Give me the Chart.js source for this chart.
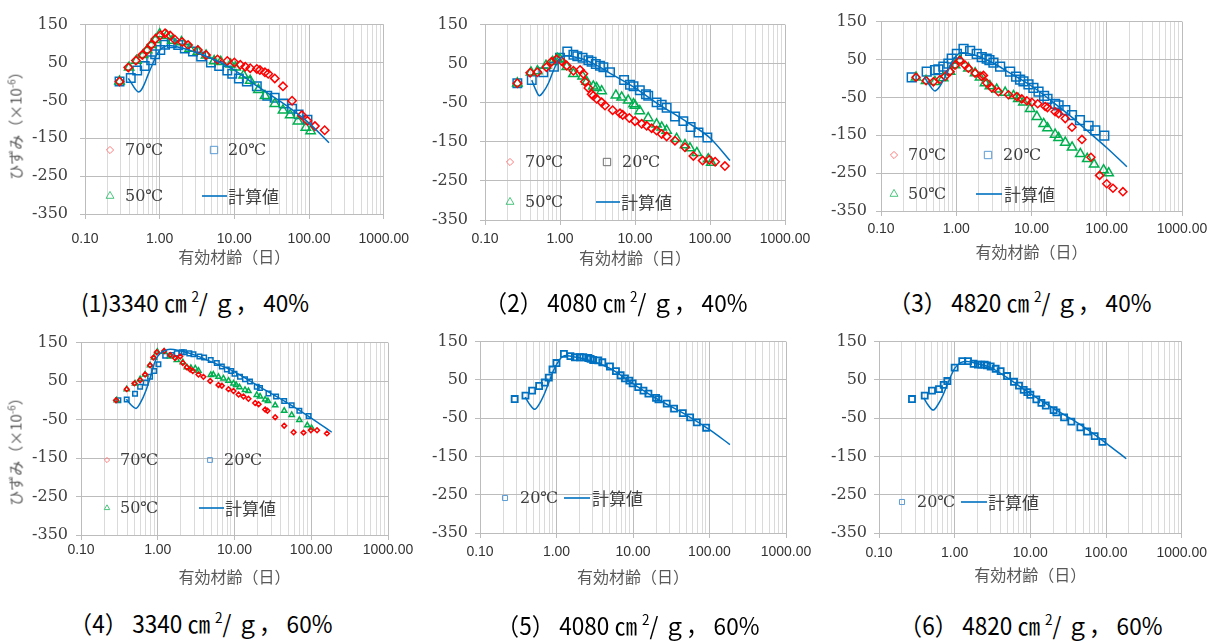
<!DOCTYPE html>
<html><head><meta charset="utf-8">
<script src="https://cdn.jsdelivr.net/npm/chart.js@4.4.0/dist/chart.umd.min.js"></script>
<style>
html,body{margin:0;padding:0;background:#fff;width:1216px;height:641px;overflow:hidden;}
body{position:relative;font-family:"Noto Sans CJK JP",sans-serif;}
canvas{position:absolute;}
.cap{position:absolute;font-size:24px;color:#000;white-space:nowrap;transform:translate(-50%,-50%) scaleX(0.94);line-height:1;}
.cap sup{font-size:60%;vertical-align:0.7em;line-height:0;}
.ytitle{position:absolute;font-size:15px;color:#595959;white-space:nowrap;transform:translate(-50%,-50%) rotate(-90deg);line-height:1;}
.ytitle sup{font-size:65%;vertical-align:0.6em;line-height:0;}
</style></head><body>
<script>
// ---------- shared axis content ----------
const xDecades = [0.1, 1, 10, 100, 1000];
const xTickLabels = ['0.10', '1.00', '10.00', '100.00', '1000.00'];
const yTickValues = [-350, -250, -150, -50, 50, 150];
const seriesNames = ['70℃', '50℃', '20℃', '計算値'];
const xTitleText = '有効材齢（日）';
const yTitleHtml = 'ひずみ（×10<sup>-6</sup>）';
const captionsHtml = [
  '(1)3340 ㎝ <sup>2</sup>/ ｇ， 40%',
  '（2） 4080 ㎝ <sup>2</sup>/ ｇ， 40%',
  '（3） 4820 ㎝ <sup>2</sup>/ ｇ， 40%',
  '（4） 3340 ㎝ <sup>2</sup>/ ｇ， 60%',
  '（5） 4080 ㎝ <sup>2</sup>/ ｇ， 60%',
  '（6） 4820 ㎝ <sup>2</sup>/ ｇ， 60%'
];

// ---------- data: [effective age (days), strain (x10^-6)] ----------
const p1_70 = [[0.29,0],[0.38,37],[0.48,55],[0.585,70],[0.68,83],[0.774,97],[0.875,112],[1.02,122],[1.18,127],[1.38,121],[1.6,110],[2.0,104],[2.4,96],[3.25,83],[4.18,70],[5.95,58],[8.05,54],[10,50],[12,44],[14,39],[16.3,35],[20,33],[22,30],[25.7,24],[28.4,20],[34.8,8],[44.8,-13],[59.3,-51],[80.3,-89],[95,-104],[120,-118],[162,-129]];
const p1_50 = [[0.29,0],[0.39,37],[0.49,55],[0.6,70],[0.68,83],[0.774,97],[0.88,110],[1.0,125],[1.24,121],[1.48,108],[1.96,104],[2.52,87],[3.25,79],[4.18,69],[5.37,54],[6.58,52],[8.9,45],[10.4,37],[13.3,16],[16.3,2],[21,-22],[25.7,-38],[34.8,-59],[44.8,-76],[55.9,-89],[71.1,-105],[90.6,-122],[105,-131]];
const p1_20 = [[0.29,0],[0.41,9],[0.5,29],[0.63,41],[0.77,56],[0.87,72],[1.02,83],[1.18,97],[1.45,101],[1.77,96],[2.17,87],[2.79,79],[3.59,66],[4.86,50],[6.26,41],[8.05,29],[9.36,20],[11.5,8],[14.7,0],[20,-13],[27.6,-38],[34.7,-43],[45.6,-58],[59.3,-72],[72.6,-87],[95.3,-101]];
const p1_calc = [[0.38,8],[0.42,-5],[0.47,-20],[0.52,-28],[0.57,-22],[0.63,-5],[0.7,18],[0.8,45],[0.9,68],[1.0,82],[1.15,92],[1.35,95],[1.6,93],[2,88],[3,77],[5,60],[10,30],[20,-12],[50,-64],[100,-110],[185,-162]];

const p2_70 = [[0.27,0],[0.40,27],[0.50,28],[0.66,41],[0.77,55],[0.90,61],[1.05,57],[1.23,45],[1.51,32],[1.85,34],[2.05,24],[2.15,4],[2.39,-12],[2.64,-28],[2.78,-32],[3.08,-40],[3.59,-49],[3.98,-57],[5.03,-69],[6.31,-77],[6.85,-81],[8.4,-89],[10,-97],[12.3,-104],[14.3,-109],[16.7,-115],[19.4,-121],[22.7,-130],[26.4,-136],[34.1,-147],[46.4,-164],[60,-186],[79.8,-198],[98,-196],[117,-201],[158,-212]];
const p2_50 = [[0.27,0],[0.41,28],[0.50,31],[0.65,45],[0.80,55],[0.92,63],[1.0,61],[1.23,42],[1.51,24],[2.0,18],[2.27,4],[2.78,-8],[3.08,-12],[3.59,-20],[5.56,-31],[6.64,-36],[8.12,-44],[9.55,-53],[10,-57],[11.6,-71],[15,-89],[19.4,-105],[22.7,-113],[26.4,-121],[35.9,-142],[46.4,-158],[54,-166],[66.8,-178],[94.7,-194],[104,-203]];
const p2_20 = [[0.27,0],[0.42,8],[0.6,28],[0.83,42],[1.0,65],[1.25,81],[1.51,73],[1.70,69],[2.0,65],[2.39,59],[2.64,55],[3.0,49],[3.41,45],[3.79,41],[4.64,28],[7.15,8],[8.58,-4],[9.55,-8],[11.6,-18],[14,-28],[15,-32],[19.4,-49],[22.7,-55],[26.4,-63],[34.1,-85],[44.1,-97],[55.2,-112],[70.2,-126],[92.2,-139]];
const p2_calc = [[0.42,8],[0.47,-15],[0.53,-32],[0.6,-22],[0.7,0],[0.8,28],[0.9,50],[1.0,63],[1.2,70],[1.5,68],[2,62],[3,47],[5,22],[10,-12],[20,-52],[50,-100],[100,-140],[185,-198]];

const p3_70 = [[0.292,3],[0.397,-6],[0.497,-9],[0.609,-3],[0.71,5],[0.828,18],[0.964,35],[1.12,48],[1.31,35],[1.45,27],[1.78,14],[2.18,5],[2.3,8],[2.54,-12],[2.97,-25],[3.64,-35],[4.94,-43],[6.38,-48],[7.43,-54],[8.67,-59],[10.1,-63],[12.1,-67],[15.2,-74],[16.3,-77],[20.6,-88],[22.9,-93],[28.1,-106],[34.5,-129],[46.8,-161],[61.6,-208],[80.3,-256],[100,-278],[121,-290],[164,-299]];
const p3_50 = [[0.292,3],[0.397,-6],[0.52,-9],[0.67,1],[0.828,18],[0.964,35],[1.12,48],[1.45,27],[1.78,14],[2.07,3],[2.41,-12],[2.8,-20],[3.45,-29],[4.47,-37],[5.76,-46],[6.67,-54],[7.8,-63],[9.6,-80],[11.8,-101],[14.5,-120],[16.3,-131],[20.6,-148],[22.9,-157],[28.1,-169],[34.6,-182],[44.5,-199],[55.1,-212],[67.9,-227],[90.7,-242],[106,-250]];
const p3_20 = [[0.256,3],[0.405,18],[0.523,22],[0.579,24],[0.675,31],[0.787,39],[0.871,52],[1.02,65],[1.25,78],[1.53,73],[1.87,65],[2.18,56],[2.54,52],[2.76,48],[3.12,42],[3.83,31],[5.2,18],[6.25,5],[7.06,-3],[7.83,-8],[9.12,-16],[10.6,-25],[12.4,-35],[14.7,-46],[16.3,-54],[20.6,-67],[22.9,-71],[28.1,-84],[34.5,-97],[44,-110],[57.3,-125],[70.3,-137],[92.7,-151]];
const p3_calc = [[0.38,3],[0.45,-20],[0.52,-33],[0.6,-22],[0.7,2],[0.8,28],[0.9,48],[1.0,60],[1.15,68],[1.5,65],[2,58],[3,42],[5,16],[10,-20],[20,-65],[35.6,-105],[50,-131],[100,-183],[185,-233]];

const p4_70 = [[0.286,0],[0.394,29],[0.497,44],[0.589,52],[0.684,67],[0.794,91],[0.878,111],[0.97,125],[1.21,128],[1.45,118],[1.68,110],[1.96,114],[2.12,97],[2.39,86],[2.64,80],[2.86,76],[3.39,67],[3.94,61],[4.82,50],[6.18,40],[6.84,38],[8.35,29],[9.7,24],[11.3,15],[13.1,10],[15.2,4],[18.6,-7],[20.6,-10],[25.1,-24],[26.9,-27],[33.9,-44],[44.4,-66],[58.9,-83],[79.4,-84],[99,-78],[119,-78],[160,-86]];
const p4_50 = [[0.292,0],[0.394,29],[0.506,44],[0.589,55],[0.684,67],[0.794,91],[0.897,111],[0.99,126],[1.21,126],[1.45,114],[1.77,105],[2.12,99],[2.39,86],[2.7,84],[3.08,83],[3.39,77],[4.9,66],[5.3,67],[6.18,61],[7.17,57],[8.35,51],[9.7,44],[10.5,40],[11.6,34],[13.7,27],[15.2,24],[19.5,14],[21.5,10],[25.1,2],[27.3,-2],[33.9,-13],[44.4,-27],[55.6,-38],[70,-51],[88.8,-65],[101,-72]];
const p4_20 = [[0.307,0],[0.394,2],[0.506,17],[0.589,35],[0.698,46],[0.794,61],[0.897,76],[1.02,94],[1.25,116],[1.52,118],[1.77,122],[2.05,125],[2.19,125],[2.58,122],[2.92,120],[3.49,114],[4.02,111],[4.9,105],[5.88,97],[6.84,88],[7.94,80],[9.05,76],[10,69],[11.8,61],[13.7,55],[15.9,49],[19.5,35],[21.5,32],[27.7,18],[34.8,10],[44.4,-2],[55.6,-13],[70,-27],[92.4,-41]];
const p4_calc = [[0.39,3],[0.45,-12],[0.52,-21],[0.6,-5],[0.7,25],[0.8,60],[0.9,95],[1.0,115],[1.2,128],[1.45,133],[2,128],[3,118],[5,100],[10,74],[20,38],[50,-8],[100,-46],[185,-83]];

const p5_20 = [[0.284,0],[0.393,9],[0.48,22],[0.593,34],[0.703,43],[0.794,56],[0.887,77],[1.0,94],[1.25,118],[1.52,112],[1.74,109],[2.02,109],[2.24,109],[2.6,107],[2.79,105],[3.02,102],[3.51,101],[3.97,96],[5.0,85],[5.99,73],[6.89,62],[7.85,54],[8.95,48],[9.9,41],[11.7,31],[13.7,22],[15.9,14],[20,3],[21.5,-1],[27.6,-12],[34.4,-25],[44.8,-37],[55.8,-48],[68.3,-61],[90.4,-75]];
const p5_calc = [[0.39,5],[0.45,-15],[0.52,-27],[0.6,-12],[0.7,15],[0.8,45],[0.9,72],[1.0,90],[1.15,108],[1.3,114],[1.6,111],[2,108],[3,98],[5,80],[10,40],[20,2],[50,-42],[100,-80],[185,-119]];

const p6_20 = [[0.273,0],[0.402,9],[0.501,22],[0.621,26],[0.716,37],[0.8,47],[1.0,82],[1.26,99],[1.5,99],[1.78,92],[2.03,90],[2.25,90],[2.49,90],[2.67,88],[2.99,85],[3.48,79],[4.05,73],[4.92,60],[6.08,45],[7.08,35],[8.16,24],[9.12,18],[10,11],[12,-1],[14,-10],[16,-17],[20.3,-29],[22.1,-35],[27.9,-48],[34.8,-59],[45.8,-74],[56.1,-85],[70.8,-97],[89.5,-112]];
const p6_calc = [[0.39,3],[0.45,-17],[0.52,-29],[0.6,-15],[0.7,10],[0.8,38],[0.9,62],[1.0,80],[1.2,95],[1.45,98],[2,92],[3,82],[5,55],[10,14],[20,-24],[50,-72],[100,-115],[185,-156]];

// ---------- styling / layout ----------
const RED = '#ff0000', GREEN = '#00b050', BLUE = '#0070c0';
const yW = 80, padTop = 12, padR = 32;

const panels = [
  {L:85, R:389, T:15, B:214, tickPad:12, yPad:12, titleOff:43, cap:[195,302], ytitle:[15,122],
   series:[p1_70,p1_50,p1_20], calc:p1_calc, mk:{d:4.2,t:5.4,s:6,lw:1.5},
   legend:[{st:'d',c:'#ff7b7b',x:110,y:150,r:3.6,tx:125,text:0},{st:'s',c:'#5b9bd5',x:214,y:150,r:5.2,tx:228,text:2},
           {st:'t',c:'#4cc47f',x:110,y:196,r:4.6,tx:125,text:1},{st:'l',c:BLUE,x:202,y:196,len:25,tx:228,text:3}]},
  {L:485, R:785, T:15, B:220, tickPad:6, yPad:12, titleOff:38, cap:[616,302],
   series:[p2_70,p2_50,p2_20], calc:p2_calc, mk:{d:4.2,t:5.4,s:6,lw:1.5},
   legend:[{st:'d',c:'#ff7b7b',x:510,y:162,r:3.6,tx:525,text:0},{st:'s',c:'#707070',x:607,y:162,r:5.2,tx:622,text:2},
           {st:'t',c:'#4cc47f',x:510,y:202,r:4.6,tx:525,text:1},{st:'l',c:BLUE,x:596,y:202,len:24,tx:621,text:3}]},
  {L:881, R:1182, T:15, B:211, tickPad:5, yPad:9, titleOff:41, cap:[1020,302],
   series:[p3_70,p3_50,p3_20], calc:p3_calc, mk:{d:4,t:5.4,s:6.2,lw:1.5},
   legend:[{st:'d',c:'#ff7b7b',x:894,y:155,r:3.6,tx:908,text:0},{st:'s',c:'#5b9bd5',x:988,y:155,r:5.2,tx:1003,text:2},
           {st:'t',c:'#4cc47f',x:894,y:194,r:4.6,tx:908,text:1},{st:'l',c:BLUE,x:976,y:194,len:26,tx:1004,text:3}]},
  {L:81, R:388, T:337, B:535, tickPad:2, yPad:8, titleOff:42, cap:[201,623], ytitle:[15,448],
   series:[p4_70,p4_50,p4_20], calc:p4_calc, mk:{d:2.4,t:3,s:3.2,lw:1.5},
   legend:[{st:'d',c:'#ff7b7b',x:107,y:460,r:2.6,tx:120,text:0},{st:'s',c:'#5b9bd5',x:210,y:460,r:3.4,tx:224,text:2},
           {st:'t',c:'#4cc47f',x:107,y:508,r:3.2,tx:120,text:1},{st:'l',c:BLUE,x:199,y:508,len:25,tx:225,text:3}]},
  {L:480, R:786, T:337, B:533, tickPad:6, yPad:7, titleOff:44, cap:[628,625],
   series:[null,null,p5_20], calc:p5_calc, mk:{d:3,t:3,s:4.3,lw:1.8},
   legend:[{st:'s',c:'#5b9bd5',x:505,y:498,r:3.6,tx:520,text:2},{st:'l',c:BLUE,x:564,y:498,len:26,tx:592,text:3}]},
  {L:879, R:1182, T:337, B:533, tickPad:7, yPad:7, titleOff:42, cap:[1031,625],
   series:[null,null,p6_20], calc:p6_calc, mk:{d:3,t:3,s:4.3,lw:1.8},
   legend:[{st:'s',c:'#5b9bd5',x:902,y:502,r:3.6,tx:917,text:2},{st:'l',c:BLUE,x:961,y:502,len:26,tx:988,text:3}]}
];

// grid positions for the log axis (1..9 x each decade)
const xGridValues = [];
[0.1, 1, 10, 100].forEach(d => { for (let m = 1; m <= 9; m++) xGridValues.push(Number((d * m).toPrecision(6))); });
xGridValues.push(1000);
const isDecade = v => xDecades.some(d => Math.abs(d - v) / d < 1e-6);

function drawMarker(ctx, st, x, y, r) {
  ctx.beginPath();
  if (st === 'd') {
    ctx.moveTo(x, y - r); ctx.lineTo(x + r, y); ctx.lineTo(x, y + r); ctx.lineTo(x - r, y); ctx.closePath();
  } else if (st === 's') {
    const h = r * Math.SQRT1_2; ctx.rect(x - h, y - h, 2 * h, 2 * h);
  } else if (st === 't') {
    ctx.moveTo(x, y - r); ctx.lineTo(x + r * 0.866, y + r * 0.5); ctx.lineTo(x - r * 0.866, y + r * 0.5); ctx.closePath();
  }
  ctx.stroke();
}

const panelLegend = {
  id: 'panelLegend',
  afterDraw(chart, args, opts) {
    const ctx = chart.ctx;
    (opts.items || []).forEach(it => {
      const x = it.x - opts.ox, y = it.y - opts.oy;
      ctx.save();
      ctx.strokeStyle = it.c;
      if (it.st === 'l') {
        ctx.lineWidth = 1.6; ctx.beginPath(); ctx.moveTo(x, y); ctx.lineTo(x + it.len, y); ctx.stroke();
      } else {
        ctx.lineWidth = 1; drawMarker(ctx, it.st, x, y, it.r);
      }
      const label = seriesNames[it.text];
      ctx.fillStyle = '#404040';
      ctx.textBaseline = 'middle'; ctx.textAlign = 'left';
      ctx.font = it.text === 3 ? '17px "Noto Sans CJK JP"' : '16px "DejaVu Serif", "Noto Sans CJK JP", serif';
      ctx.fillText(label, it.tx - opts.ox, y + 1);
      ctx.restore();
    });
  }
};

const pts = arr => arr.map(([x, y]) => ({x, y}));
const markerStyle = ['rectRot', 'triangle', 'rect'];
const markerColor = [RED, GREEN, BLUE];

panels.forEach((p, i) => {
  const plotW = p.R - p.L, plotH = p.B - p.T;
  const xH = p.titleOff + 20;
  const cl = p.L - yW, ct = p.T - padTop;
  const cw = yW + plotW + padR, ch = padTop + plotH + xH;
  const cv = document.createElement('canvas');
  cv.width = cw; cv.height = ch;
  cv.style.left = cl + 'px'; cv.style.top = ct + 'px';
  cv.style.width = cw + 'px'; cv.style.height = ch + 'px';
  document.body.appendChild(cv);

  const datasets = [{
    label: seriesNames[3], data: pts(p.calc), showLine: true, pointRadius: 0,
    borderColor: BLUE, borderWidth: 1.5, cubicInterpolationMode: 'monotone', fill: false
  }];
  p.series.forEach((s, k) => {
    if (!s) return;
    const r = k === 0 ? p.mk.d : (k === 1 ? p.mk.t : p.mk.s);
    datasets.push({
      label: seriesNames[k], data: pts(s), showLine: false,
      pointStyle: markerStyle[k], pointRadius: r, pointHoverRadius: r,
      pointBorderColor: markerColor[k], pointBackgroundColor: 'rgba(0,0,0,0)', pointBorderWidth: p.mk.lw
    });
  });

  new Chart(cv, {
    type: 'scatter',
    data: {datasets},
    plugins: [panelLegend],
    options: {
      responsive: false, animation: false, devicePixelRatio: 1,
      layout: {padding: {top: padTop, right: padR, left: 0, bottom: 0}},
      plugins: {
        legend: {display: false}, tooltip: {enabled: false}, title: {display: false},
        panelLegend: {items: p.legend, ox: cl, oy: ct}
      },
      scales: {
        x: {
          type: 'logarithmic', position: 'bottom', min: 0.1, max: 1000,
          afterBuildTicks: ax => { ax.ticks = xGridValues.map(v => ({value: v, major: false})); },
          afterFit: ax => { ax.height = xH; },
          ticks: {
            autoSkip: false, maxRotation: 0, minRotation: 0, padding: p.tickPad,
            color: '#333333', font: {family: '"Liberation Sans", Arial, sans-serif', size: 14},
            callback: v => { const j = xDecades.findIndex(d => Math.abs(d - v) / d < 1e-6); return j >= 0 ? xTickLabels[j] : ''; }
          },
          grid: {
            lineWidth: 1, tickLength: 5, drawTicks: true,
            color: c => (c.tick && isDecade(c.tick.value)) ? '#bcbcbc' : '#dadada',
            tickColor: c => (c.tick && isDecade(c.tick.value)) ? '#bcbcbc' : 'rgba(0,0,0,0)'
          },
          border: {display: true, color: '#bcbcbc', width: 1},
          title: {display: true, text: xTitleText, color: '#595959',
                  font: {family: '"Noto Sans CJK JP"', size: 16, lineHeight: 1.2}, padding: {top: 0, bottom: 10.4}}
        },
        y: {
          type: 'linear', min: -350, max: 150,
          afterBuildTicks: ax => { ax.ticks = yTickValues.map(v => ({value: v})); },
          afterFit: ax => { ax.width = yW; },
          ticks: {padding: p.yPad, color: '#404040', font: {family: '"DejaVu Serif", serif', size: 16}},
          grid: {color: '#bcbcbc', lineWidth: 1, tickLength: 5, tickColor: '#bcbcbc'},
          border: {display: true, color: '#bcbcbc', width: 1}
        }
      }
    }
  });

  const cap = document.createElement('div');
  cap.className = 'cap';
  cap.style.left = p.cap[0] + 'px'; cap.style.top = p.cap[1] + 'px';
  cap.innerHTML = captionsHtml[i];
  document.body.appendChild(cap);

  if (p.ytitle) {
    const yt = document.createElement('div');
    yt.className = 'ytitle';
    yt.style.left = p.ytitle[0] + 'px'; yt.style.top = p.ytitle[1] + 'px';
    yt.innerHTML = yTitleHtml;
    document.body.appendChild(yt);
  }
});
</script>
</body></html>
